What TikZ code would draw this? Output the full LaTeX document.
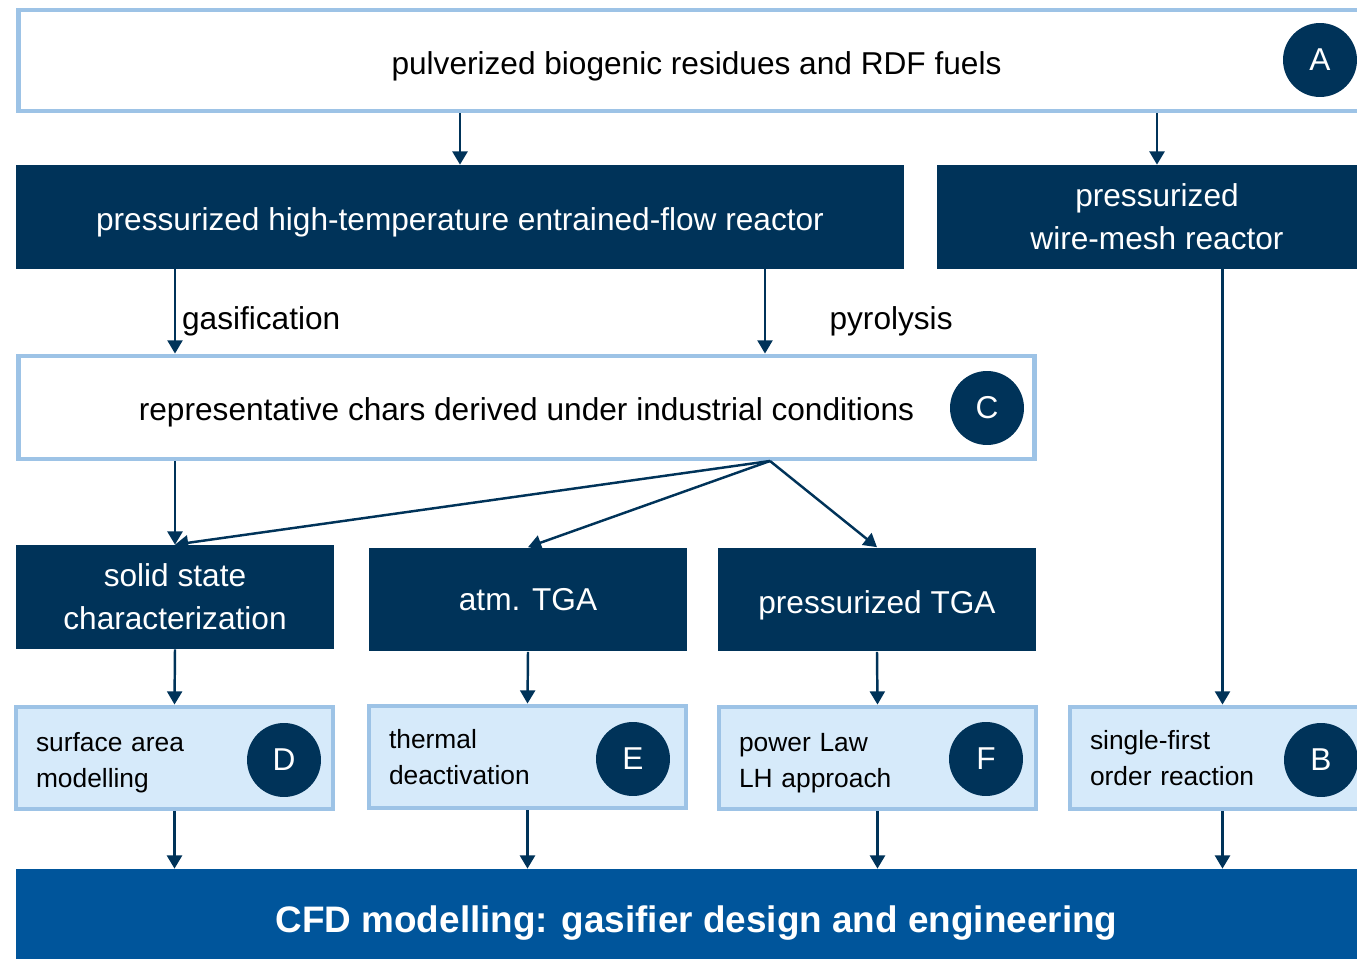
\documentclass[tikz,border=0pt]{standalone}
\usepackage{fontspec}
\setmainfont{Liberation Sans}
\usetikzlibrary{arrows.meta,positioning}
\definecolor{navy}{RGB}{0,51,89}
\definecolor{cfdblue}{RGB}{0,85,155}
\definecolor{lineblue}{RGB}{157,195,230}
\definecolor{paleblue}{RGB}{214,234,250}
\tikzset{low/.style={text height=#1}}

\begin{document}
\begin{tikzpicture}[x=0.02cm,y=-0.02cm,>={Triangle[length=7.5pt,width=8.5pt]},
   font=\fontsize{18}{24.4}\selectfont,
   frame/.style={draw=lineblue,line width=2.8pt,fill=white,align=center},
   dark/.style={fill=navy,text=white,align=center,minimum height=2.08cm},
   lbox/.style={draw=lineblue,line width=2.8pt,fill=paleblue,align=left,minimum height=2.04cm,
                inner xsep=0.4cm,font=\fontsize{15}{20.4}\selectfont},
   badge/.style={circle,fill=navy,text=white,minimum size=1.48cm,inner sep=0pt},
   cfd/.style={fill=cfdblue,text=white,font=\bfseries\fontsize{21}{25}\selectfont},
   link/.style={->,draw=navy,line width=1.4pt}]
  \clip (0,0) rectangle (1357,959);
  % sources
  \node[frame,low=19.5pt,minimum width=27.14cm,minimum height=2.02cm] (fuels) at (696.5,60.5)
        {pulverized biogenic residues and RDF fuels};
  \node[badge] (A) at (1320,60) {A};
  \node[dark,low=19pt,minimum width=17.76cm] (efr) at (460,217)
        {pressurized high-temperature entrained-flow reactor};
  \node[dark,minimum width=8.8cm] (wmr) at (1157,217) {pressurized\\wire-mesh reactor};
  % chars
  \node[frame,low=19pt,minimum width=20.34cm,minimum height=2.06cm] (chars) at (526.5,407.5)
        {representative chars derived under industrial conditions};
  \node[badge] (C) at (987,408) {C};
  % analysis
  \node[dark,minimum width=6.36cm] (solid) at (175,597) {solid state\\characterization};
  \node[dark,minimum width=6.36cm] (atga) at (528,599.5) {atm. TGA};
  \node[dark,low=19.5pt,minimum width=6.36cm] (ptga) at (877,599.5) {pressurized TGA};
  % models
  \node[lbox,low=16.5pt,text width=5.54cm] (sam) at (174.5,758) {surface area\\modelling};
  \node[badge] (D) at (284,760) {D};
  \node[lbox,text width=5.54cm] (thd) at (527.5,757) {thermal\\deactivation};
  \node[badge] (E) at (633,759) {E};
  \node[lbox,low=16.5pt,text width=5.54cm] (plaw) at (877.5,758) {power Law\\LH approach};
  \node[badge] (F) at (986,759) {F};
  \node[lbox,text width=5.3cm] (sfo) at (1222.5,758) {single-first\\order reaction};
  \node[badge] (B) at (1321,760) {B};
  \node[cfd,low=19.5pt,minimum width=27.22cm,minimum height=2cm] (model) at (696.5,919)
        {CFD modelling: gasifier design and engineering};
  % connectors
  \coordinate (pyr) at (765,269);
  \coordinate (fan) at (770,461);
  \draw[link] (fuels.south -| efr.north) -- (efr.north);
  \draw[link] (fuels.south -| wmr.north) -- (wmr.north);
  \draw[link] (efr.south -| solid.north) -- (chars.north -| solid.north)
        node[pos=0.62,right] {gasification};
  \draw[link] (pyr) -- (pyr |- chars.north) node[pos=0.62,right=1.15cm] {pyrolysis};
  \draw[link] (wmr.south -| sfo.north) -- (sfo.north);
  \draw[link] (chars.south -| solid.north) -- (solid.north);
  \draw[link] (fan) -- (solid.north);
  \draw[link] (fan) -- (atga.north);
  \draw[link] (fan) -- (ptga.north);
  \draw[link] (solid.south) -- (sam.north);
  \draw[link] (atga.south) -- (thd.north);
  \draw[link] (ptga.south) -- (plaw.north);
  \draw[link] (sam.south) -- (sam.south |- model.north);
  \draw[link] (thd.south) -- (thd.south |- model.north);
  \draw[link] (plaw.south) -- (plaw.south |- model.north);
  \draw[link] (sfo.south) -- (sfo.south |- model.north);
\end{tikzpicture}
\end{document}
